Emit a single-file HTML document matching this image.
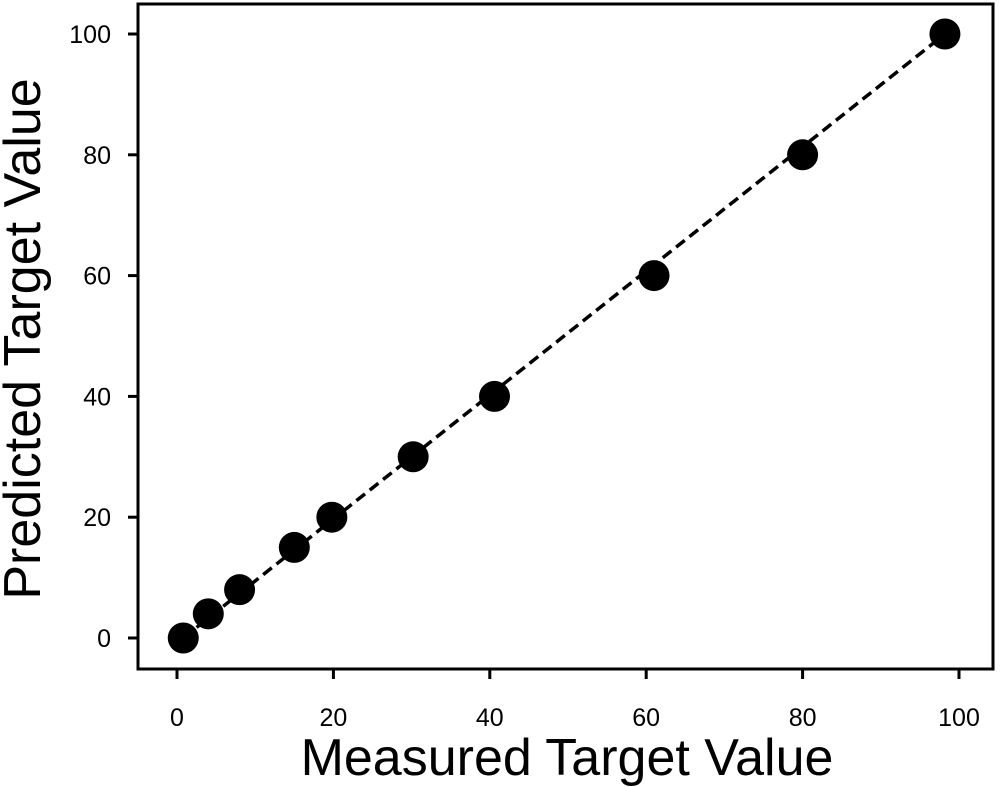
<!DOCTYPE html>
<html><head><meta charset="utf-8"><style>
html,body{margin:0;padding:0;background:#fff;}
svg{display:block;font-family:"Liberation Sans",sans-serif;}
</style></head><body>
<svg id="chart" width="1000" height="787" viewBox="0 0 1000 787">
<rect x="138" y="4" width="855" height="665" fill="none" stroke="#000" stroke-width="3"/>
<g id="xticks"></g>
<g id="yticks"></g>
<g id="marks"></g>
<text x="567" y="775" font-size="52" text-anchor="middle">Measured Target Value</text>
<text transform="translate(40,339) rotate(-90)" font-size="52" text-anchor="middle">Predicted Target Value</text>
</svg>
<script>
const measured = [0.8, 4, 8, 15, 19.8, 30.2, 40.6, 61, 80, 98.2];
const predicted = [0, 4, 8, 15, 20, 30, 40, 60, 80, 100];
const xTickLabels = [0, 20, 40, 60, 80, 100];
const yTickLabels = [0, 20, 40, 60, 80, 100];
const NS = "http://www.w3.org/2000/svg";
function xs(v){return 177 + v*7.82;}
function ys(v){return 638 - v*6.04;}
function mk(tag, attrs, parent){const e=document.createElementNS(NS,tag);for(const k in attrs)e.setAttribute(k,attrs[k]);parent.appendChild(e);return e;}
const xg=document.getElementById('xticks'), yg=document.getElementById('yticks'), mg=document.getElementById('marks');
xTickLabels.forEach(v=>{
  const l=mk('line',{x1:xs(v),x2:xs(v),y1:669,y2:679,stroke:'#000','stroke-width':3},xg);
  
  
  const t=mk('text',{x:xs(v),y:726,'font-size':25,'text-anchor':'middle'},xg);
  t.textContent=v;
  
  
});
yTickLabels.forEach(v=>{
  const l=mk('line',{x1:128,x2:138,y1:ys(v),y2:ys(v),stroke:'#000','stroke-width':3},yg);
  
  
  const t=mk('text',{x:111,y:ys(v)+9,'font-size':25,'text-anchor':'end'},yg);
  t.textContent=v;
  
  
});
const n=measured.length;
const fit=mk('line',{x1:xs(measured[0]),y1:ys(predicted[0]),x2:xs(measured[n-1]),y2:ys(predicted[n-1]),stroke:'#000','stroke-width':3.5,'stroke-dasharray':'11 6'},mg);


measured.forEach((m,i)=>{
  const c=mk('circle',{cx:xs(m),cy:ys(predicted[i]),r:15.5,fill:'#000'},mg);
  
  
});
</script>
</body></html>
